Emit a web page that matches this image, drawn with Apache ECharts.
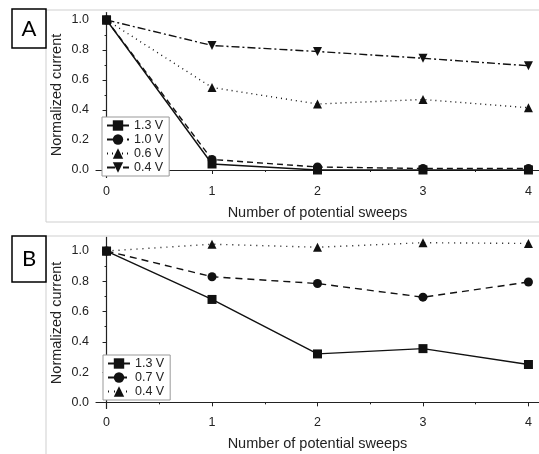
<!DOCTYPE html>
<html>
<head>
<meta charset="utf-8">
<script src="https://cdn.jsdelivr.net/npm/echarts@6/dist/echarts.min.js"></script>
<style>
  html, body { margin: 0; padding: 0; background: #fff; }
  #chart { width: 539px; height: 454px; }
</style>
</head>
<body>
<div id="chart"></div>
<script>
// sweeps on the x axis
var sweeps = [0, 1, 2, 3, 4]
var xTicks = [0, 1, 2, 3, 4]
var xMinor = [0.5, 1.5, 2.5, 3.5]
var yTicks = [0, 0.2, 0.4, 0.6, 0.8, 1.0]
var yMinor = [0.1, 0.3, 0.5, 0.7, 0.9]

// panel A
var namesA = ['1.3 V', '1.0 V', '0.6 V', '0.4 V']
var a13 = [1.0, 0.04, 0.0, 0.0, 0.0]
var a10 = [1.0, 0.07, 0.02, 0.01, 0.01]
var a06 = [1.0, 0.55, 0.44, 0.47, 0.415]
var a04 = [1.0, 0.83, 0.79, 0.745, 0.695]

// panel B
var namesB = ['1.3 V', '0.7 V', '0.4 V']
var b13 = [1.0, 0.68, 0.32, 0.355, 0.25]
var b07 = [1.0, 0.83, 0.785, 0.695, 0.795]
var b04 = [1.0, 1.045, 1.025, 1.055, 1.05]

var font = 'Liberation Sans'
var ink = '#222'

function pairs(vals) {
    return sweeps.map(function (x, i) { return [x, vals[i]] })
}

function mainX(grid) {
    return {
        type: 'value', gridIndex: grid, min: -0.1, max: 4.1,
        name: 'Number of potential sweeps', nameLocation: 'middle', nameGap: 28,
        nameTextStyle: { fontFamily: font, fontSize: 14.5, color: ink },
        splitLine: { show: false },
        axisLine: { lineStyle: { color: ink, width: 1.2 } },
        axisTick: { customValues: xTicks, length: 4, lineStyle: { color: ink } },
        axisLabel: { customValues: xTicks, margin: 8, fontFamily: font, fontSize: 12.5, color: ink }
    }
}
function minorX(grid) {
    return {
        type: 'value', gridIndex: grid, min: -0.1, max: 4.1, position: 'bottom',
        splitLine: { show: false }, axisLine: { show: false }, axisLabel: { show: false },
        axisTick: { customValues: xMinor, length: 2, lineStyle: { color: ink } }
    }
}
function mainY(grid, min, max) {
    return {
        type: 'value', gridIndex: grid, min: min, max: max,
        name: 'Normalized current', nameLocation: 'middle', nameGap: 32, nameMoveOverlap: false,
        nameTextStyle: { fontFamily: font, fontSize: 14.5, color: ink },
        splitLine: { show: false },
        axisLine: { show: true, lineStyle: { color: ink, width: 1.2 } },
        axisTick: { show: true, customValues: yTicks, length: 4, lineStyle: { color: ink } },
        axisLabel: {
            customValues: yTicks, margin: 7, fontFamily: font, fontSize: 12.5, color: ink,
            formatter: function (v) { return v.toFixed(1) }
        }
    }
}
function minorY(grid, min, max) {
    return {
        type: 'value', gridIndex: grid, min: min, max: max, position: 'left',
        splitLine: { show: false }, axisLine: { show: false }, axisLabel: { show: false },
        axisTick: { show: true, customValues: yMinor, length: 2, lineStyle: { color: ink } }
    }
}

function line(name, vals, axis, symbol, rotate, dash) {
    return {
        name: name, type: 'line', xAxisIndex: axis, yAxisIndex: axis,
        data: pairs(vals), symbol: symbol, symbolSize: 9, symbolRotate: rotate,
        lineStyle: { color: '#111', width: 1.4, type: dash },
        itemStyle: { color: '#111' }
    }
}

// panel B series carry a prefix so the two legends stay apart
function stripPrefix(n) { return n.replace('B:', '') }

var legendBase = {
    orient: 'vertical', itemWidth: 22, itemHeight: 13, itemGap: 1,
    padding: [2, 6, 2, 4], borderColor: '#999', borderWidth: 1, backgroundColor: '#fff',
    formatter: stripPrefix,
    textStyle: { fontFamily: font, fontSize: 12.5, lineHeight: 12, color: ink }
}

var chart = echarts.init(document.getElementById('chart'))
chart.setOption({
    animation: false,
    backgroundColor: '#fff',
    graphic: [
        { type: 'rect', shape: { x: 46, y: 10, width: 520, height: 212 }, style: { fill: 'none', stroke: '#cfcfcf', lineWidth: 1 }, z: -1 },
        { type: 'rect', shape: { x: 46, y: 236, width: 520, height: 240 }, style: { fill: 'none', stroke: '#cfcfcf', lineWidth: 1 }, z: -1 },
        { type: 'rect', shape: { x: 12, y: 9, width: 34, height: 39 }, style: { fill: '#fff', stroke: '#000', lineWidth: 1.5 } },
        { type: 'text', x: 29, y: 29, style: { text: 'A', fontFamily: 'Lato', fontSize: 22, fill: '#000', align: 'center', verticalAlign: 'middle' } },
        { type: 'rect', shape: { x: 12, y: 236, width: 34, height: 46 }, style: { fill: '#fff', stroke: '#000', lineWidth: 1.5 } },
        { type: 'text', x: 29, y: 259, style: { text: 'B', fontFamily: 'Lato', fontSize: 22, fill: '#000', align: 'center', verticalAlign: 'middle' } }
    ],
    grid: [
        { left: 96, top: 12.5, width: 448, height: 165 },
        { left: 96, top: 237.4, width: 448, height: 171 }
    ],
    xAxis: [mainX(0), mainX(1), minorX(0), minorX(1)],
    yAxis: [mainY(0, -0.05, 1.05), mainY(1, -0.04, 1.09), minorY(0, -0.05, 1.05), minorY(1, -0.04, 1.09)],
    legend: [
        Object.assign({}, legendBase, { left: 102, top: 117, data: namesA }),
        Object.assign({}, legendBase, { left: 103, top: 355, data: namesB.map(function (n) { return 'B:' + n }) })
    ],
    series: [
        line(namesA[0], a13, 0, 'rect', 0, 'solid'),
        line(namesA[1], a10, 0, 'circle', 0, [6, 4]),
        line(namesA[2], a06, 0, 'triangle', 0, [1, 4]),
        line(namesA[3], a04, 0, 'triangle', 180, [8, 3, 2, 3]),
        line('B:' + namesB[0], b13, 1, 'rect', 0, 'solid'),
        line('B:' + namesB[1], b07, 1, 'circle', 0, [7, 5]),
        line('B:' + namesB[2], b04, 1, 'triangle', 0, [1, 5])
    ]
})
</script>
</body>
</html>
